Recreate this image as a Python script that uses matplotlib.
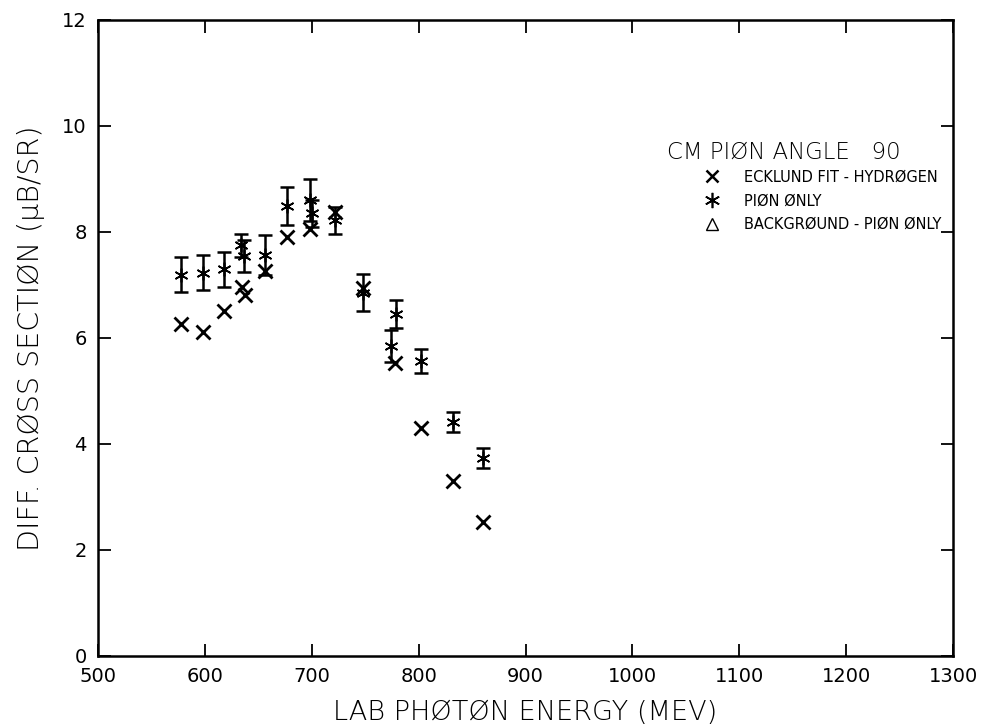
import matplotlib.pyplot as plt
from matplotlib.lines import Line2D

plt.rcParams['font.family'] = ['DejaVu Sans']

# Ecklund fit - hydrogen (x marks)
fit_e = [578, 598, 618, 635, 638, 656, 677, 698, 722, 748, 778, 802, 832, 860]
fit_y = [6.26, 6.11, 6.51, 6.96, 6.81, 7.26, 7.90, 8.06, 8.38, 6.95, 5.53, 4.30, 3.30, 2.53]

# pion only (asterisks with error bars)
pion_e = [578, 598, 618, 634, 637, 656, 677, 698, 700, 722, 748, 774, 779, 802, 832, 860]
pion_y = [7.19, 7.23, 7.30, 7.75, 7.55, 7.57, 8.49, 8.60, 8.35, 8.22, 6.85, 5.85, 6.45, 5.57, 4.42, 3.74]
pion_err = [0.33, 0.33, 0.33, 0.22, 0.30, 0.38, 0.35, 0.40, 0.25, 0.25, 0.35, 0.30, 0.26, 0.23, 0.19, 0.19]

# background - pion only (triangles): none visible in this panel
bg_e = []
bg_y = []

xticks = [500, 600, 700, 800, 900, 1000, 1100, 1200, 1300]
yticks = [0, 2, 4, 6, 8, 10, 12]

fig = plt.figure(figsize=(9.83, 7.27), dpi=100)
ax = fig.add_axes([0.0997, 0.0977, 0.8698, 0.8748])

ax.errorbar(pion_e, pion_y, yerr=pion_err, fmt='none', ecolor='black',
            elinewidth=1.8, capsize=5, capthick=1.8)
ax.plot(pion_e, pion_y, linestyle='none', marker=(6, 2, 0), markersize=10,
        color='black', markeredgewidth=1.2)
ax.plot(fit_e, fit_y, linestyle='none', marker='x', markersize=10,
        color='black', markeredgewidth=2)
ax.plot(bg_e, bg_y, linestyle='none', marker='^', markersize=8,
        markerfacecolor='none', color='black')

ax.set_xlim(500, 1300)
ax.set_ylim(0, 12)
ax.set_xticks(xticks)
ax.set_yticks(yticks)
ax.tick_params(direction='in', length=9, width=1.3, top=True, right=True,
               labelsize=14, pad=8)
for s in ax.spines.values():
    s.set_linewidth(1.8)

ax.set_xlabel('LAB PHØTØN ENERGY (MEV)', fontsize=19.5, labelpad=10,
              fontweight='light')
ax.set_ylabel('DIFF. CRØSS SECTIØN (\u03bcB/SR)', fontsize=20.5, labelpad=12,
              fontweight='light')

ax.text(0.6655, 0.7925, 'CM PIØN ANGLE   90', transform=ax.transAxes,
        fontsize=16.5, va='center', ha='left', fontweight='light')

handles = [
    Line2D([], [], linestyle='none', marker='x', markersize=9, color='black', markeredgewidth=1.8),
    Line2D([], [], linestyle='none', marker=(6, 2, 0), markersize=11, color='black', markeredgewidth=1.2),
    Line2D([], [], linestyle='none', marker='^', markersize=8, markerfacecolor='none', color='black'),
]
labels = ['ECKLUND FIT - HYDRØGEN', 'PIØN ØNLY', 'BACKGRØUND - PIØN ØNLY']
ax.legend(handles, labels, loc='upper left', bbox_to_anchor=(0.704, 0.765),
          frameon=False, prop={'size': 10.5},
          handlelength=1.6, handletextpad=1.4, labelspacing=0.6,
          borderpad=0, borderaxespad=0)

fig.savefig('out.png', dpi=100)
